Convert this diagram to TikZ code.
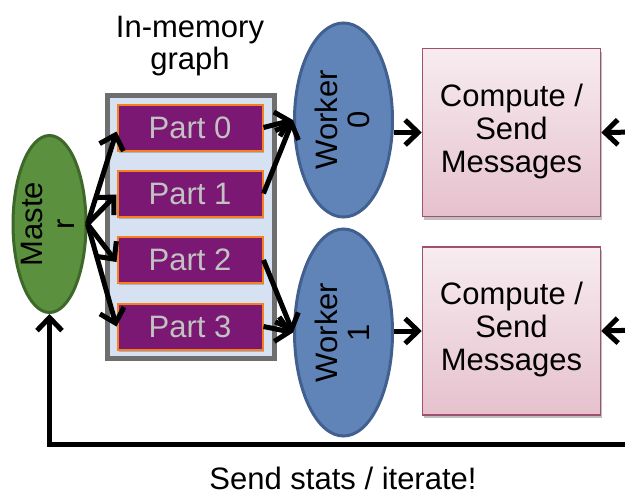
\documentclass[tikz,border=0pt]{standalone}
\usepackage{fontspec}
\setmainfont{Liberation Sans}
\usetikzlibrary{arrows.meta,shapes.geometric,shadows,calc}

\definecolor{masterfill}{RGB}{91,145,62}
\definecolor{masterline}{RGB}{62,104,42}
\definecolor{workerfill}{RGB}{96,132,184}
\definecolor{workerline}{RGB}{65,96,143}
\definecolor{partfill}{RGB}{122,24,116}
\definecolor{partline}{RGB}{247,128,30}
\definecolor{parttext}{RGB}{194,194,194}
\definecolor{graphfill}{RGB}{214,225,241}
\definecolor{graphline}{RGB}{110,110,110}
\definecolor{computetop}{RGB}{247,236,240}
\definecolor{computebottom}{RGB}{230,193,205}
\definecolor{computeline}{RGB}{160,80,112}

\newcommand{\twolines}[2]{\begin{tabular}{@{}c@{}}#1\\#2\end{tabular}}

\tikzset{
  txt/.style={font=\fontsize{31}{32}\selectfont, inner sep=0pt},
  masterbox/.style={ellipse, draw=masterline, fill=masterfill, line width=3pt,
    minimum width=73pt, minimum height=177pt, inner sep=0pt},
  workerbox/.style={ellipse, draw=workerline, fill=workerfill, line width=3pt,
    minimum width=98pt, inner sep=0pt},
  partbox/.style={rectangle, draw=partline, fill=partfill, line width=2pt,
    minimum width=145pt, minimum height=46pt, inner sep=0pt,
    text=parttext, font=\fontsize{31}{32}\selectfont,
    drop shadow={shadow xshift=1pt, shadow yshift=-2pt, opacity=0.2, fill=black}},
  graphbox/.style={rectangle, draw=graphline, fill=graphfill, line width=5pt,
    minimum width=167pt, minimum height=263pt, inner sep=0pt},
  computebox/.style={rectangle, draw=computeline, line width=1.5pt,
    top color=computetop, bottom color=computebottom,
    minimum width=178pt, minimum height=168pt, inner sep=0pt,
    font=\fontsize{31}{33}\selectfont,
    drop shadow={shadow xshift=1pt, shadow yshift=-3pt, opacity=0.25, fill=black}},
  arr/.style={line width=5pt, -{Straight Barb[length=13pt,width=25pt]}},
}

\begin{document}
\begin{tikzpicture}[x=1pt, y=-1pt]
\useasboundingbox (0,0) rectangle (625,496);
\clip (0,0) rectangle (625,496);

% title of the partition container
\node[txt, align=center] (title) at (190,47) {\twolines{In-memory}{graph}};

% container holding the graph partitions
\node[graphbox] (graph) at (191,227) {};

% partitions
\node[partbox] (p0) at (190,127.5) {Part 0};
\node[partbox] (p1) at (190,193.5) {Part 1};
\node[partbox] (p2) at (190,260)   {Part 2};
\node[partbox] (p3) at (190,326.5) {Part 3};

% master
\node[masterbox] (master) at (49.5,224) {};
\node[txt, xshift=3pt] (mastertxt) at (master) {\rotatebox{90}{\twolines{Maste}{r}}};

% workers
\node[workerbox, minimum height=194pt] (w0) at (343.5,120) {};
\node[txt, xshift=4pt] (w0txt) at (w0) {\rotatebox{90}{\twolines{Worker}{0}}};
\node[workerbox, minimum height=207pt] (w1) at (343.5,332.5) {};
\node[txt, xshift=4pt] (w1txt) at (w1) {\rotatebox{90}{\twolines{Worker}{1}}};

% compute steps
\node[computebox] (c0) at (511.5,132.5) {\begin{tabular}{@{}c@{}}Compute /\\Send\\Messages\end{tabular}};
\node[computebox] (c1) at (511.5,331)   {\begin{tabular}{@{}c@{}}Compute /\\Send\\Messages\end{tabular}};

% master hands out the partitions
\draw[arr] (master.east) -- ($(p0.west)+(0,4)$);
\draw[arr] (master.east) -- ($(p1.west)+(0,1)$);
\draw[arr] (master.east) -- ($(p2.west)+(0,2)$);
\draw[arr] (master.east) -- (p3.west);

% partitions loaded by workers
\draw[arr] (p0.east) -- (w0.west);
\draw[arr] (p1.east) -- (w0.west);
\draw[arr] (p2.east) -- (w1.west);
\draw[arr] (p3.east) -- (w1.west);

% workers run the compute step
\draw[arr] (w0.east |- c0.west) -- (c0.west);
\draw[arr] (w1.east |- c1.west) -- (c1.west);

% incoming messages from the right
\coordinate (in0) at (640,132);
\coordinate (in1) at (640,330);
\draw[arr] (in0) -- (c0.east);
\draw[arr] (in1) -- (c1.east);

% feedback loop back to the master
\coordinate (loop) at (660,444);
\draw[arr] (loop) -| (master.south);
\node[txt, anchor=base] (looplabel) at (343,489) {Send stats / iterate!};
\end{tikzpicture}
\end{document}
